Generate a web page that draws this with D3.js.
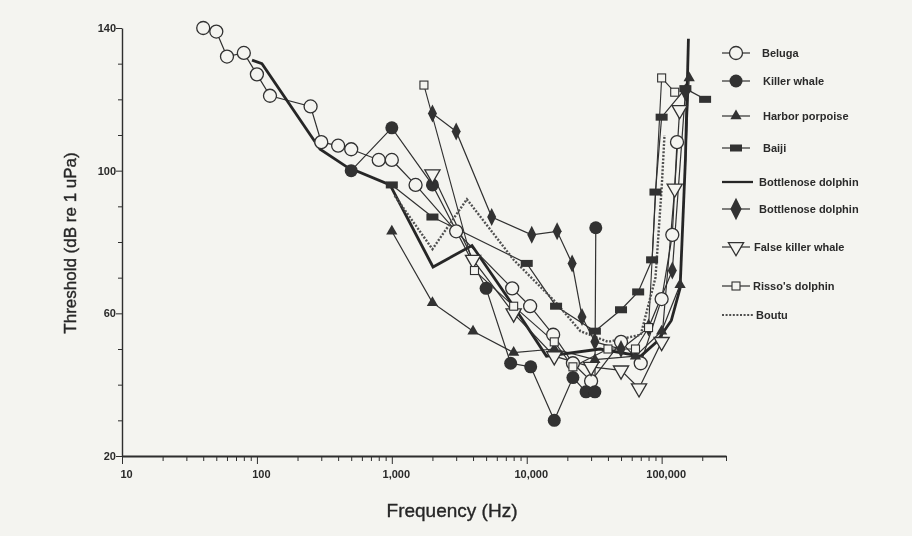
<!DOCTYPE html>
<html lang="en">
<head>
<meta charset="UTF-8">
<title>Odontocete audiograms</title>
<style>
  body { margin: 0; background: #f4f4f0; }
  svg { display: block; font-family: "Liberation Sans", Arial, sans-serif; }
  .axis path, .axis line { stroke: #2e2e2e; }
  .axis text { fill: #2a2a2a; font-size: 11px; font-weight: bold; }
  .legend text { fill: #2a2a2a; font-size: 11px; font-weight: bold; }
  .title { fill: #262626; stroke: #262626; stroke-width: 0.35px; }
</style>
</head>
<body>
<script src="https://d3js.org/d3.v7.min.js"></script>
<script>
// threshold curves, frequency in Hz, threshold in dB re 1 uPa
var belugaF = [40, 50, 60, 80, 100, 125, 250, 300, 400, 500, 800, 1000, 1500, 3000, 7800, 10600, 15700, 22000, 30000, 50000, 70000, 100000, 120000, 130000];
var belugaDb = [140, 139, 132, 133, 127, 121, 118, 108, 107, 106, 103, 103, 96, 83, 67, 62, 54, 46, 41, 52, 46, 64, 82, 108];

var killerF = [500, 1000, 2000, 5000, 7600, 10700, 16000, 22000, 27500, 32000, 32500];
var killerDb = [100, 112, 96, 67, 46, 45, 30, 42, 38, 38, 84];

var porpoiseF = [1000, 2000, 4000, 8000, 16000, 32000, 64000, 100000, 137000, 160000];
var porpoiseDb = [83, 63, 55, 49, 50, 47, 48, 55, 68, 126];

var baijiF = [1000, 2000, 10000, 16500, 32000, 50000, 67000, 85000, 90000, 100000, 150000, 210000];
var baijiDb = [96, 87, 74, 62, 55, 61, 66, 75, 94, 115, 123, 120];

var bottleF = [92, 109, 294, 466, 970, 2020, 3930, 8000, 14000, 35000, 70000, 92000, 118000, 137000, 150000, 158000];
var bottleDb = [131, 130, 106, 101, 96, 73, 79, 62, 48, 50, 48, 52, 58, 67, 103, 137];

var bottle2F = [2000, 3000, 5500, 10900, 16800, 21700, 25700, 32000, 50000, 80000, 120000, 150000];
var bottle2Db = [116, 111, 87, 82, 83, 74, 59, 52, 50, 56, 72, 122];

var falseKillerF = [2000, 4000, 8000, 16000, 30000, 50000, 68000, 100000, 125000, 136000];
var falseKillerDb = [99, 75, 60, 48, 45, 44, 39, 52, 95, 117];

var rissoF = [1730, 4100, 8000, 16000, 22000, 40000, 64000, 80000, 100000, 125000];
var rissoDb = [124, 72, 62, 52, 45, 50, 50, 56, 126, 122];

var boutuF = [1050, 2000, 3600, 8000, 16500, 25000, 40000, 70000, 90000, 100000, 105000];
var boutuDb = [93, 78, 92, 75, 63, 55, 52, 54, 70, 95, 110];

var legendNames = ["Beluga", "Killer whale", "Harbor porpoise", "Baiji", "Bottlenose dolphin",
                   "Bottlenose dolphin", "False killer whale", "Risso's dolphin", "Boutu"];

var yTicks = [20, 30, 40, 50, 60, 70, 80, 90, 100, 110, 120, 130, 140];
var yLabels = [20, 60, 100, 140];
var xLabels = [10, 100, 1000, 10000, 100000];

var width = 912, height = 536;
var ink = "#303030";
var paper = "#f4f4f0";

var svg = d3.select("body").append("svg")
    .attr("width", width)
    .attr("height", height);

svg.append("defs").append("filter").attr("id", "soft")
    .append("feGaussianBlur").attr("stdDeviation", 0.5);

var x = d3.scaleLog().domain([10, 300000]).range([122, 726]);
var y = d3.scaleLinear().domain([20, 140]).range([456, 28]);

var g = svg.append("g").attr("filter", "url(#soft)");

// axes
var xTicks = [];
for (var e = 1; e <= 5; e++) {
    for (var k = 1; k <= 9; k++) {
        var v = k * Math.pow(10, e);
        if (v <= 300000) xTicks.push(v);
    }
}

var xAxis = g.append("g").attr("class", "axis")
    .attr("transform", "translate(0," + y(20) + ")")
    .call(d3.axisBottom(x).tickValues(xTicks).tickSize(5).tickSizeOuter(0)
        .tickFormat(function(d) { return xLabels.indexOf(d) >= 0 ? d3.format(",")(d) : ""; }));
xAxis.select(".domain").attr("stroke-width", 1.8);
xAxis.selectAll(".tick text").attr("dx", "4px").attr("y", 12).attr("dy", "0.9em");
xAxis.selectAll(".tick").filter(function(d) { return xLabels.indexOf(d) >= 0; })
    .select("line").attr("y2", 8);

var yAxis = g.append("g").attr("class", "axis")
    .attr("transform", "translate(" + x(10) + ",0)")
    .call(d3.axisLeft(y).tickValues(yTicks).tickSize(4).tickSizeOuter(0)
        .tickFormat(function(d) { return yLabels.indexOf(d) >= 0 ? d : ""; }));
yAxis.select(".domain").attr("stroke-width", 1.4);
yAxis.selectAll(".tick").filter(function(d) { return yLabels.indexOf(d) >= 0; })
    .select("line").attr("x2", -6);
yAxis.selectAll(".tick text").attr("x", -6);

g.append("text")
    .attr("class", "title")
    .attr("transform", "translate(76,243) rotate(-90)")
    .attr("text-anchor", "middle")
    .style("font-size", "17px")
    .text("Threshold (dB re 1 uPa)");

g.append("text")
    .attr("class", "title")
    .attr("x", 452).attr("y", 517)
    .attr("text-anchor", "middle")
    .style("font-size", "19px")
    .text("Frequency (Hz)");

// marker shapes
function diamondPath(w, h) {
    return "M0," + (-h) + "L" + w + ",0L0," + h + "L" + (-w) + ",0Z";
}
function drawMarker(sel, type, big) {
    var s = big ? 1.25 : 1;
    if (type === "circleOpen") {
        sel.append("circle").attr("r", 6.5).attr("fill", paper).attr("stroke", ink).attr("stroke-width", 1.3);
    } else if (type === "circleFill") {
        sel.append("circle").attr("r", 6.5).attr("fill", ink);
    } else if (type === "triangle") {
        sel.append("path").attr("d", d3.symbol().type(d3.symbolTriangle).size(55)).attr("fill", ink);
    } else if (type === "rect") {
        sel.append("rect").attr("x", -6).attr("y", -3.5).attr("width", 12).attr("height", 7).attr("fill", ink);
    } else if (type === "diamond") {
        sel.append("path").attr("d", diamondPath(4.5 * s, 9 * s)).attr("fill", ink);
    } else if (type === "triDown") {
        sel.append("path").attr("d", d3.symbol().type(d3.symbolTriangle).size(100))
            .attr("transform", "rotate(180)").attr("fill", paper).attr("stroke", ink).attr("stroke-width", 1.3);
    } else if (type === "squareOpen") {
        sel.append("rect").attr("x", -4).attr("y", -4).attr("width", 8).attr("height", 8)
            .attr("fill", paper).attr("stroke", ink).attr("stroke-width", 1.1);
    }
}

var series = [
    { f: belugaF, db: belugaDb, marker: "circleOpen", w: 1.2, dash: null, color: ink },
    { f: killerF, db: killerDb, marker: "circleFill", w: 1.2, dash: null, color: ink },
    { f: porpoiseF, db: porpoiseDb, marker: "triangle", w: 1.2, dash: null, color: ink },
    { f: baijiF, db: baijiDb, marker: "rect", w: 1.2, dash: null, color: ink },
    { f: bottleF, db: bottleDb, marker: null, w: 2.8, dash: null, color: "#282828" },
    { f: bottle2F, db: bottle2Db, marker: "diamond", w: 1.2, dash: null, color: ink },
    { f: falseKillerF, db: falseKillerDb, marker: "triDown", w: 1.2, dash: null, color: ink },
    { f: rissoF, db: rissoDb, marker: "squareOpen", w: 1.1, dash: null, color: ink },
    { f: boutuF, db: boutuDb, marker: null, w: 2.4, dash: "2,1.6", color: "#505050" }
];

var line = d3.line()
    .x(function(d) { return x(d[0]); })
    .y(function(d) { return y(d[1]); });

series.forEach(function(s) {
    var pts = s.f.map(function(f, i) { return [f, s.db[i]]; });
    g.append("path")
        .datum(pts)
        .attr("d", line)
        .attr("fill", "none")
        .attr("stroke", s.color)
        .attr("stroke-width", s.w)
        .attr("stroke-dasharray", s.dash);
});

series.forEach(function(s) {
    if (!s.marker) return;
    var pts = s.f.map(function(f, i) { return [f, s.db[i]]; });
    g.selectAll(null)
        .data(pts)
        .enter().append("g")
        .attr("transform", function(d) { return "translate(" + x(d[0]) + "," + y(d[1]) + ")"; })
        .each(function() { drawMarker(d3.select(this), s.marker, false); });
});

// legend
var legendY = [53, 81, 116, 148, 182, 209, 247, 286, 315];
var legendTextX = [762, 763, 763, 763, 759, 759, 754, 753, 756];
var legend = g.append("g").attr("class", "legend");
series.forEach(function(s, i) {
    var row = legend.append("g").attr("transform", "translate(0," + legendY[i] + ")");
    row.append("line").attr("x1", 722).attr("x2", s.marker ? 750 : 753)
        .attr("stroke", s.color).attr("stroke-width", s.marker ? 1.2 : s.w * 0.8)
        .attr("stroke-dasharray", s.dash);
    if (s.marker) {
        var m = row.append("g").attr("transform", "translate(736,0)");
        drawMarker(m, s.marker, true);
    }
    row.append("text").attr("x", legendTextX[i]).attr("y", 4).text(legendNames[i]);
});
</script>
</body>
</html>
